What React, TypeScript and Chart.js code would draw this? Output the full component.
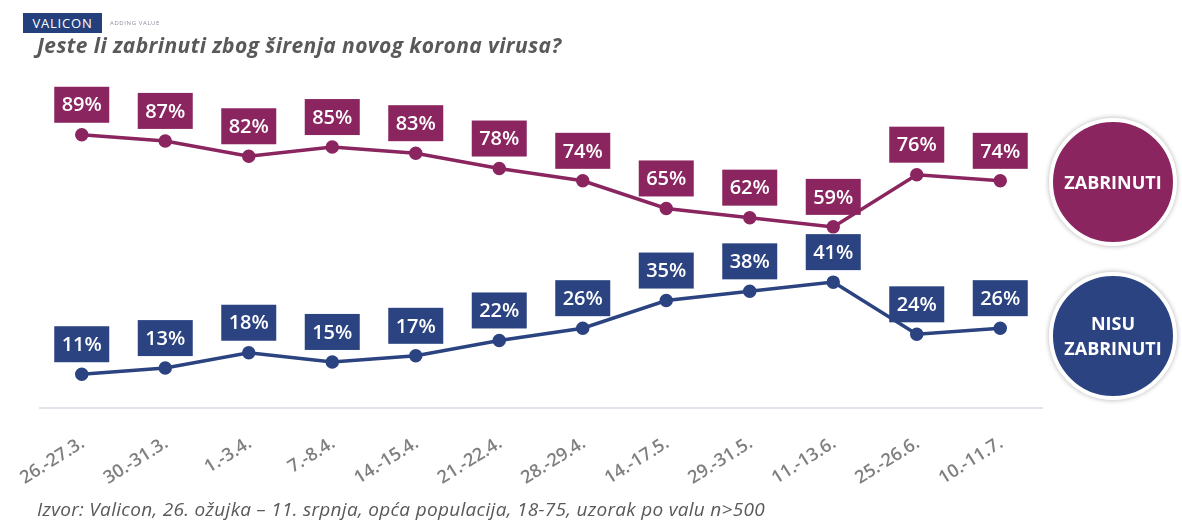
import React, { useEffect, useRef } from "react";
import { Chart, registerables } from "chart.js";
Chart.register(...registerables);

const categories = ["26.-27.3.", "30.-31.3.", "1.-3.4.", "7.-8.4.", "14.-15.4.", "21.-22.4.", "28.-29.4.", "14.-17.5.", "29.-31.5.", "11.-13.6.", "25.-26.6.", "10.-11.7."];
const zabrinuti = [89, 87, 82, 85, 83, 78, 74, 65, 62, 59, 76, 74];
const nisuZabrinuti = [11, 13, 18, 15, 17, 22, 26, 35, 38, 41, 24, 26];
const seriesNames = ["ZABRINUTI", "NISU ZABRINUTI"];
const titleText = "Jeste li zabrinuti zbog širenja novog korona virusa?";
const sourceText = "Izvor: Valicon, 26. ožujka – 11. srpnja, opća populacija, 18-75, uzorak po valu n>500";

const PURPLE = "#8a2560";
const BLUE = "#2b4381";

const boxLabels = {
  id: "boxLabels",
  beforeDatasetsDraw(chart: any) {
    const ctx = chart.ctx;
    chart.data.datasets.forEach((ds: any, i: number) => {
      const meta = chart.getDatasetMeta(i);
      meta.data.forEach((pt: any, j: number) => {
        const w = 55, h = 36, gap = 12;
        const x = pt.x;
        const yb = pt.y - gap;
        ctx.save();
        ctx.fillStyle = ds.borderColor;
        ctx.fillRect(x - w / 2, yb - h, w, h);
        ctx.fillStyle = "#ffffff";
        ctx.font = '600 20px "Open Sans"';
        ctx.textAlign = "center";
        ctx.textBaseline = "middle";
        ctx.fillText(ds.data[j] + "%", x, yb - h / 2 + 1);
        ctx.restore();
      });
    });
  },
};

// Rotated category labels drawn at the x scale's own tick positions
const slantedTicks = {
  id: "slantedTicks",
  afterDraw(chart: any) {
    const ctx = chart.ctx;
    const xs = chart.scales.x;
    const labels: string[] = chart.data.labels;
    ctx.save();
    ctx.fillStyle = "#7f7f7f";
    ctx.font = '600 18px "Open Sans"';
    ctx.textAlign = "right";
    ctx.textBaseline = "alphabetic";
    labels.forEach((lab, i) => {
      const px = xs.getPixelForTick(i);
      ctx.save();
      ctx.translate(px + 4, xs.top + 38);
      ctx.rotate((-32 * Math.PI) / 180);
      ctx.fillText(lab, 0, 0);
      ctx.restore();
    });
    ctx.restore();
  },
};

export default function App() {
  const canvasRef = useRef<HTMLCanvasElement | null>(null);

  useEffect(() => {
    document.body.style.margin = "0";
    const canvas = canvasRef.current;
    if (!canvas) return;
    const chart = new Chart(canvas, {
      type: "line",
      data: {
        labels: categories,
        datasets: [
          {
            label: seriesNames[0],
            data: zabrinuti,
            borderColor: PURPLE,
            backgroundColor: PURPLE,
            pointBackgroundColor: PURPLE,
            pointBorderColor: PURPLE,
            borderWidth: 3.5,
            pointRadius: 5,
            tension: 0,
          },
          {
            label: seriesNames[1],
            data: nisuZabrinuti,
            borderColor: BLUE,
            backgroundColor: BLUE,
            pointBackgroundColor: BLUE,
            pointBorderColor: BLUE,
            borderWidth: 3.5,
            pointRadius: 5,
            tension: 0,
          },
        ],
      },
      options: {
        responsive: false,
        animation: false,
        layout: { padding: { left: 40, right: 140, top: 101, bottom: 46 } },
        plugins: { legend: { display: false }, tooltip: { enabled: false }, title: { display: false } },
        scales: {
          x: {
            offset: true,
            grid: { display: false, drawTicks: false },
            border: { display: true, color: "#dfe3ea", width: 2 },
            ticks: { display: false },
            afterFit: (s: any) => {
              s.height = 70;
            },
          },
          y: { display: false, min: 0, max: 100 },
        },
      },
      plugins: [boxLabels, slantedTicks],
    });
    return () => chart.destroy();
  }, []);

  const circleBase: React.CSSProperties = {
    position: "absolute",
    width: 128,
    height: 128,
    borderRadius: "50%",
    border: "4px solid #ffffff",
    boxShadow: "0 0 4px 1px rgba(0,0,0,0.22)",
    display: "flex",
    alignItems: "center",
    justifyContent: "center",
    textAlign: "center",
    color: "#ffffff",
    fontFamily: '"Open Sans", sans-serif',
    fontWeight: 700,
    fontSize: 18,
    lineHeight: "25px",
    boxSizing: "border-box",
  };

  return (
    <div style={{ position: "relative", width: 1182, height: 524, background: "#ffffff", overflow: "hidden" }}>
      <canvas ref={canvasRef} width={1182} height={524} style={{ position: "absolute", left: 0, top: 0 }} />
      <div
        style={{
          position: "absolute",
          left: 23,
          top: 13,
          width: 79,
          height: 20,
          background: "#24407c",
          color: "#ffffff",
          fontFamily: '"Open Sans", sans-serif',
          fontSize: 13,
          lineHeight: "20px",
          textAlign: "center",
          letterSpacing: 0.8,
        }}
      >
        VALICON
      </div>
      <div
        style={{
          position: "absolute",
          left: 110,
          top: 19,
          fontFamily: '"Open Sans", sans-serif',
          fontSize: 6,
          color: "#8a8f9e",
          letterSpacing: 0.6,
        }}
      >
        ADDING VALUE
      </div>
      <div
        style={{
          position: "absolute",
          left: 37,
          top: 31,
          fontFamily: '"Open Sans", sans-serif',
          fontStyle: "italic",
          fontWeight: 700,
          fontSize: 21,
          letterSpacing: 0.4,
          color: "#595959",
          whiteSpace: "nowrap",
        }}
      >
        {titleText}
      </div>
      <div
        style={{
          position: "absolute",
          left: 37,
          top: 496,
          fontFamily: '"Open Sans", sans-serif',
          fontStyle: "italic",
          fontSize: 19,
          letterSpacing: 0.3,
          color: "#595959",
          whiteSpace: "nowrap",
        }}
      >
        {sourceText}
      </div>
      <div style={{ ...circleBase, left: 1049, top: 118, background: PURPLE }}>{seriesNames[0]}</div>
      <div style={{ ...circleBase, left: 1049, top: 272, background: BLUE }}>
        NISU
        <br />
        ZABRINUTI
      </div>
    </div>
  );
}
